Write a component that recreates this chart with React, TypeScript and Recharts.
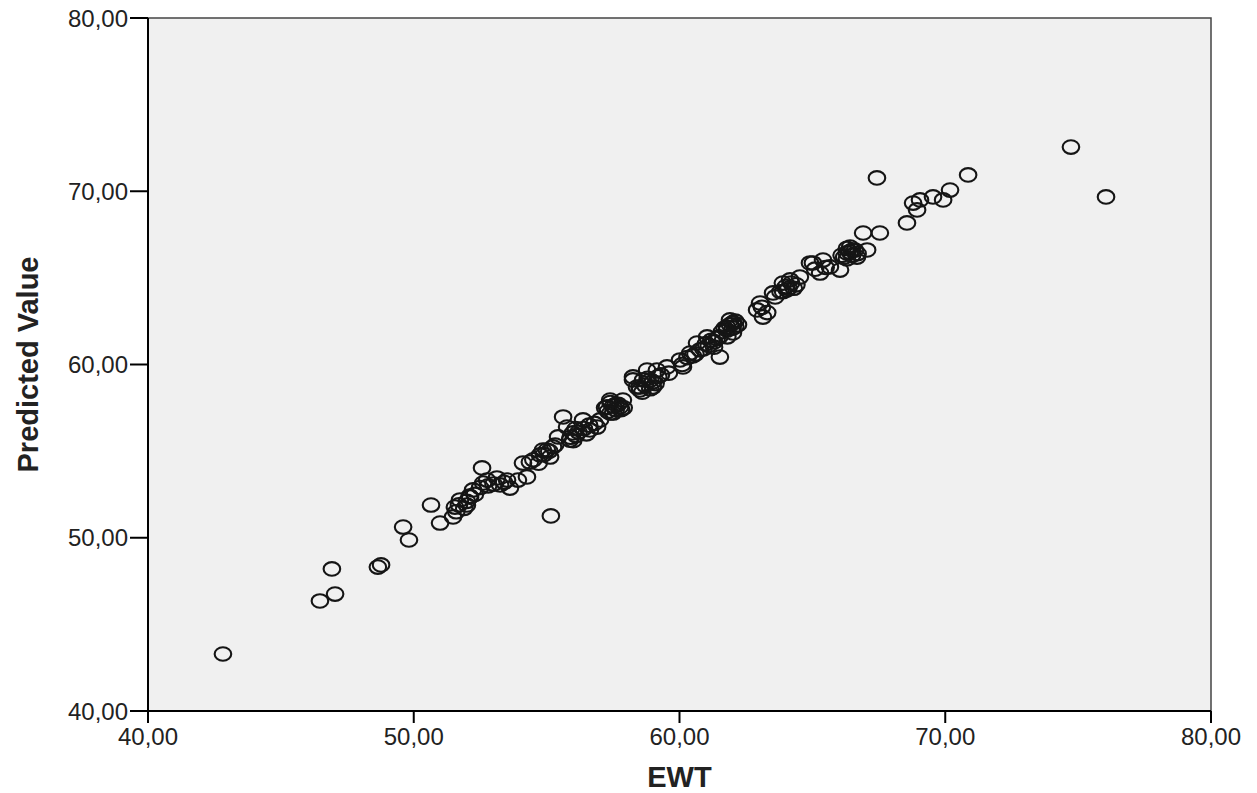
import React from 'react';
import { ScatterChart, Scatter, XAxis, YAxis, ReferenceArea } from 'recharts';

// EWT (x) against predicted value (y)
const ewt = [
  42.82, 46.47, 47.04, 46.92, 48.65, 48.77, 49.6, 49.82, 50.65, 50.99, 55.16,
  52.57, 51.48, 51.55, 51.74, 52.12, 52.0, 52.23, 52.61, 52.76, 53.13, 53.51,
  53.62, 53.25, 53.92, 54.11, 54.37, 54.26, 54.75, 55.01, 55.13, 55.32, 55.43,
  54.86, 55.24, 55.62, 55.77, 55.99, 55.88, 56.37, 56.63, 56.9, 57.01, 57.27,
  57.39, 57.5, 57.76, 57.87, 58.25, 58.51, 58.63, 58.4,
  58.25, 58.78, 59.15, 59.53, 60.02, 60.13, 60.4, 60.66, 60.77, 61.04, 61.52,
  61.79, 61.9, 62.01,
  62.01, 61.79, 62.92, 63.03, 63.14, 63.52, 63.89, 64.16, 64.04, 64.53, 65.02,
  65.29, 65.4,
  64.91, 65.66, 66.04, 66.3, 66.42, 66.68, 66.91, 67.06, 67.54,
  68.56, 68.94, 68.79, 69.05, 69.54, 69.92, 70.18, 70.86,
  67.43, 74.73, 76.05,
  57.3, 57.5, 57.6, 57.4, 57.7, 57.9,
  58.7, 58.9, 59.0, 58.8, 59.2, 59.1, 58.6,
  61.0, 61.2, 61.3, 61.4, 61.9, 62.1, 62.0, 62.2, 61.8, 60.9,
  64.0, 64.2, 64.3, 63.9,
  66.4, 66.5, 66.6, 66.3, 66.2,
  55.9, 56.0, 56.1,
  52.3, 52.5, 52.0, 51.6, 51.9,
  54.5, 54.7,
  60.3, 60.5,
  63.1, 63.3,
  56.2, 56.4, 56.6, 56.8, 56.5, 56.1,
  57.2, 57.4, 57.6, 57.8,
  58.5, 58.9, 59.3, 59.6, 59.0,
  61.1, 61.3, 61.5, 61.6, 61.7, 62.1, 62.0,
  63.8, 64.1, 64.4, 63.6,
  66.1, 66.5, 66.7, 66.3,
  53.0, 53.4, 52.8, 52.1, 51.7,
  54.9, 55.1,
  60.1, 60.6,
  65.1, 65.5,
];

const predicted = [
  43.29, 46.35, 46.75, 48.2, 48.31, 48.43, 50.62, 49.87, 51.89, 50.85, 51.26,
  54.03, 51.2, 51.77, 52.18, 52.35, 51.89, 52.76, 53.16, 53.33, 53.45, 53.33,
  52.87, 53.05, 53.33, 54.31, 54.37, 53.51, 54.78, 55.06, 54.66, 55.35, 55.82,
  55.06, 55.24, 56.97, 56.39, 56.05, 55.64, 56.8, 56.22, 56.39, 56.8, 57.55,
  57.95, 57.2, 57.55, 57.95, 59.11, 58.53, 59.11, 58.7,
  59.28, 59.68, 59.68, 59.86, 60.26, 59.86, 60.66, 61.24, 60.84, 61.59, 60.43,
  62.16, 62.57, 61.82,
  62.4, 61.99, 63.15, 63.55, 62.74, 64.13, 64.7, 64.88, 64.3, 65.05, 65.86,
  65.28, 66.03,
  65.86, 65.63, 65.45, 66.44, 66.78, 66.2, 67.59, 66.61, 67.59,
  68.17, 68.92, 69.32, 69.5, 69.67, 69.5, 70.07, 70.94,
  70.77, 72.55, 69.67,
  57.3, 57.6, 57.4, 57.8, 57.7, 57.5,
  58.8, 58.6, 59.0, 59.2, 59.3, 58.9, 58.4,
  61.2, 61.4, 61.0, 61.5, 62.3, 62.5, 62.1, 62.3, 61.6, 60.9,
  64.5, 64.7, 64.4, 64.2,
  66.5, 66.3, 66.6, 66.7, 66.2,
  55.8, 55.6, 55.9,
  52.5, 52.9, 52.1, 51.5, 51.7,
  54.5, 54.3,
  60.4, 60.5,
  63.3, 63.0,
  56.1, 56.3, 56.5, 56.6, 56.0, 56.3,
  57.5, 57.2, 57.7, 57.4,
  58.7, 59.1, 59.4, 59.5, 58.7,
  61.1, 61.3, 61.6, 61.9, 62.1, 62.2, 62.4,
  64.2, 64.4, 64.6, 63.9,
  66.3, 66.6, 66.4, 66.1,
  53.1, 53.2, 53.0, 52.4, 51.9,
  54.8, 55.0,
  60.0, 60.6,
  65.5, 65.6,
];

const axisTicks = [40, 50, 60, 70, 80];

const data = ewt.map((x, i) => ({ x, y: predicted[i] }));

const fmt = (v: number) => v.toFixed(2).replace('.', ',');

const font = '"Liberation Sans", Arial, sans-serif';

const Ring = (props: any) => {
  const { cx, cy } = props;
  if (cx == null || cy == null) return null;
  return <ellipse cx={cx} cy={cy} rx={8.3} ry={6.8} fill="none" stroke="#151515" strokeWidth={2.1} />;
};

export default function App() {
  return (
    <div style={{ position: 'absolute', left: 0, top: 0, background: '#fff' }}>
      <ScatterChart width={1257} height={793} margin={{ top: 18, right: 46, bottom: 0, left: 0 }}>
        <ReferenceArea x1={40} x2={80} y1={40} y2={80} fill="#f0f0f0" fillOpacity={1} stroke="#444" strokeWidth={1.5} />
        <XAxis
          type="number"
          dataKey="x"
          domain={[40, 80]}
          ticks={axisTicks}
          tickFormatter={fmt}
          height={82}
          tickSize={12}
          tickMargin={5}
          axisLine={{ stroke: '#000', strokeWidth: 2 }}
          tickLine={{ stroke: '#000', strokeWidth: 2 }}
          tick={{ fill: '#222', fontSize: 24, fontFamily: font }}
          label={{ value: 'EWT', position: 'insideBottom', offset: 6, style: { fontSize: 29, fontWeight: 'bold', fill: '#222', fontFamily: font } }}
        />
        <YAxis
          type="number"
          dataKey="y"
          domain={[40, 80]}
          ticks={axisTicks}
          tickFormatter={fmt}
          width={148}
          tickSize={18}
          tickMargin={2}
          axisLine={{ stroke: '#000', strokeWidth: 2 }}
          tickLine={{ stroke: '#000', strokeWidth: 2 }}
          tick={{ fill: '#222', fontSize: 24, fontFamily: font }}
          label={{ value: 'Predicted Value', angle: -90, position: 'insideLeft', offset: 28, style: { textAnchor: 'middle', fontSize: 29, fontWeight: 'bold', fill: '#222', fontFamily: font } }}
        />
        <Scatter data={data} shape={Ring} isAnimationActive={false} />
      </ScatterChart>
    </div>
  );
}
